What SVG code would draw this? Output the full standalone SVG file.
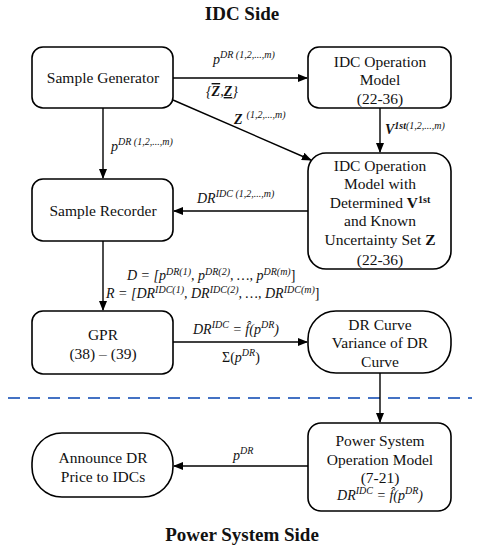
<svg xmlns="http://www.w3.org/2000/svg" width="480" height="550" viewBox="0 0 480 550">
<defs>
<marker id="ah" markerWidth="10" markerHeight="8" refX="9" refY="4" orient="auto" markerUnits="userSpaceOnUse">
<path d="M0,0 L10,4 L0,8 Z" fill="#000"/>
</marker>
<style>
text{font-family:"Liberation Serif","Times New Roman","DejaVu Serif",serif}
.box{fill:#fff;stroke:#000;stroke-width:1.6}
.t{font-size:15.5px;text-anchor:middle;fill:#111}
.h{font-size:19px;font-weight:bold;text-anchor:middle;fill:#111}
.m{font-size:14px;font-style:italic;fill:#111}
.s{font-size:10px}
.c{stroke:#000;stroke-width:1.4;fill:none;marker-end:url(#ah)}
</style>
</defs>
<rect width="480" height="550" fill="#fff"/>
<text class="h" x="242" y="20">IDC Side</text>
<text class="h" x="242" y="541">Power System Side</text>
<line x1="8" y1="398" x2="472" y2="398" stroke="#4472C4" stroke-width="2" stroke-dasharray="12,8"/>

<g id="connectors">
<line class="c" x1="173" y1="78" x2="307" y2="78"/>
<line class="c" x1="173" y1="100" x2="311" y2="160"/>
<line class="c" x1="103" y1="108" x2="103" y2="178"/>
<line class="c" x1="380" y1="108" x2="380" y2="152"/>
<line class="c" x1="308" y1="211" x2="174" y2="211"/>
<line class="c" x1="103" y1="241" x2="103" y2="310"/>
<line class="c" x1="173" y1="342" x2="307" y2="342"/>
<line class="c" x1="380" y1="373" x2="380" y2="422"/>
<line class="c" x1="308" y1="466" x2="174" y2="466"/>
<text class="m" x="213" y="64">p<tspan class="s" dy="-6">DR (1,2,...,<tspan font-style="italic">m</tspan>)</tspan></text>
<text class="m" x="206" y="96" font-style="normal">{<tspan font-weight="bold" text-decoration="overline">Z</tspan>,<tspan font-weight="bold" text-decoration="underline">Z</tspan>}</text>
<text class="m" x="234" y="124" font-style="normal" font-weight="bold">Z<tspan class="s" font-weight="normal" dy="-6" dx="4">(1,2,...,<tspan font-style="italic">m</tspan>)</tspan></text>
<text class="m" x="111" y="151">p<tspan class="s" dy="-6">DR (1,2,...,<tspan font-style="italic">m</tspan>)</tspan></text>
<text class="m" x="385" y="134" font-style="normal" font-weight="bold">V<tspan class="s" dy="-5">1st</tspan><tspan class="s" font-weight="normal">(1,2,...,<tspan font-style="italic">m</tspan>)</tspan></text>
<text class="m" x="197" y="203">DR<tspan class="s" dy="-6">IDC (1,2,...,<tspan font-style="italic">m</tspan>)</tspan></text>
<text class="m" x="127" y="280">D = [p<tspan class="s" dy="-5">DR(1)</tspan><tspan dy="5">, p</tspan><tspan class="s" dy="-5">DR(2)</tspan><tspan dy="5">, …, p</tspan><tspan class="s" dy="-5">DR(m)</tspan><tspan dy="5" font-style="normal">]</tspan></text>
<text class="m" x="106" y="298">R = [DR<tspan class="s" dy="-5">IDC(1)</tspan><tspan dy="5">, DR</tspan><tspan class="s" dy="-5">IDC(2)</tspan><tspan dy="5">, …, DR</tspan><tspan class="s" dy="-5">IDC(m)</tspan><tspan dy="5" font-style="normal">]</tspan></text>
<text class="m" x="193" y="334">DR<tspan class="s" dy="-6">IDC</tspan><tspan dy="6"> = f̂(p</tspan><tspan class="s" dy="-6">DR</tspan><tspan dy="6">)</tspan></text>
<text class="m" x="222" y="362"><tspan font-style="normal">Σ(</tspan>p<tspan class="s" dy="-6">DR</tspan><tspan dy="6" font-style="normal">)</tspan></text>
<text class="m" x="233" y="460">p<tspan class="s" dy="-6">DR</tspan></text>
</g>

<g id="sample-generator">
<rect class="box" x="32" y="47" width="141" height="61" rx="11"/>
<text class="t" x="103" y="83">Sample Generator</text>
</g>
<g id="idc-operation-model">
<rect class="box" x="308" y="47" width="143" height="61" rx="11"/>
<text class="t" x="380" y="67">IDC Operation</text>
<text class="t" x="380" y="85">Model</text>
<text class="t" x="380" y="104">(22-36)</text>
</g>
<g id="sample-recorder">
<rect class="box" x="32" y="179" width="141" height="62" rx="11"/>
<text class="t" x="103" y="216">Sample Recorder</text>
</g>
<g id="idc-operation-model-determined">
<rect class="box" x="308" y="153" width="143" height="116" rx="18"/>
<text class="t" x="380" y="171">IDC Operation</text>
<text class="t" x="380" y="189">Model with</text>
<text class="t" x="380" y="208">Determined <tspan font-weight="bold">V<tspan font-size="10px" dy="-5">1st</tspan></tspan></text>
<text class="t" x="380" y="226">and Known</text>
<text class="t" x="380" y="245">Uncertainty Set <tspan font-weight="bold">Z</tspan></text>
<text class="t" x="380" y="265">(22-36)</text>
</g>
<g id="gpr">
<rect class="box" x="32" y="311" width="141" height="63" rx="11"/>
<text class="t" x="103" y="340">GPR</text>
<text class="t" x="103" y="359">(38) – (39)</text>
</g>
<g id="dr-curve">
<rect class="box" x="308" y="311" width="143" height="62" rx="28"/>
<text class="t" x="380" y="330">DR Curve</text>
<text class="t" x="380" y="348">Variance of DR</text>
<text class="t" x="380" y="367">Curve</text>
</g>
<g id="power-system-operation-model">
<rect class="box" x="308" y="423" width="143" height="88" rx="13"/>
<text class="t" x="380" y="446">Power System</text>
<text class="t" x="380" y="465">Operation Model</text>
<text class="t" x="380" y="483">(7-21)</text>
<text class="m" x="380" y="500" text-anchor="middle">DR<tspan class="s" dy="-6">IDC</tspan><tspan dy="6"> = f̂(p</tspan><tspan class="s" dy="-6">DR</tspan><tspan dy="6">)</tspan></text>
</g>
<g id="announce-dr-price">
<rect class="box" x="32" y="433" width="141" height="64" rx="30"/>
<text class="t" x="103" y="463">Announce DR</text>
<text class="t" x="103" y="482">Price to IDCs</text>
</g>
</svg>
